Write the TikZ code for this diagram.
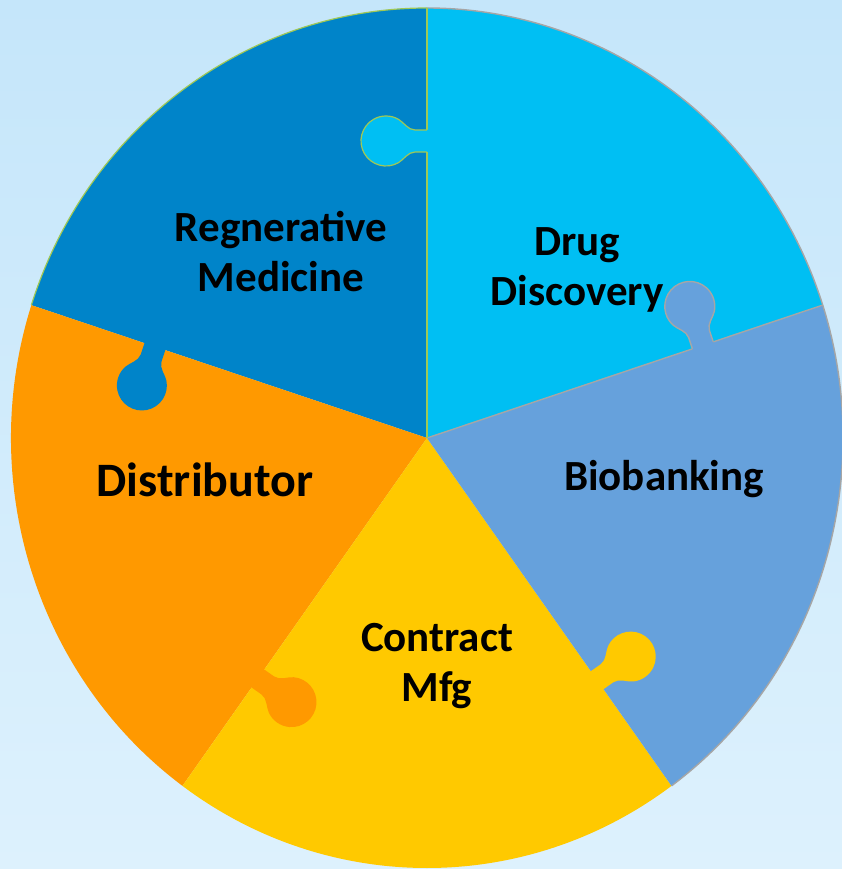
\documentclass[tikz,border=0pt]{standalone}
\usepackage{fontspec}
\setmainfont{Carlito}
\definecolor{bgtop}{RGB}{197,230,250}
\definecolor{bgbot}{RGB}{221,241,253}
\definecolor{ddc}{RGB}{0,191,243}
\definecolor{bbc}{RGB}{102,161,220}
\definecolor{cmc}{RGB}{255,201,0}
\definecolor{dic}{RGB}{255,153,0}
\definecolor{rmc}{RGB}{0,132,201}
\definecolor{edgegreen}{RGB}{160,200,85}
\definecolor{edgegrey}{RGB}{166,166,166}
\newcommand\KnobFill{(-11,-3) -- (-11,12) .. controls (-11,19) and (-18.65,23.3) .. (-21.65,28.5) arc[start angle=210,end angle=-30,radius=25] .. controls (18.65,23.3) and (11,19) .. (11,12) -- (11,-3) -- cycle}
\newcommand\KnobEdge{(-11,0) -- (-11,12) .. controls (-11,19) and (-18.65,23.3) .. (-21.65,28.5) arc[start angle=210,end angle=-30,radius=25] .. controls (18.65,23.3) and (11,19) .. (11,12) -- (11,0)}
\begin{document}
\begin{tikzpicture}[x=1pt,y=1pt,
  lbl/.style={font=\bfseries\fontsize{43}{50}\selectfont, align=center, text=black, inner sep=0pt},
  greenline/.style={draw=edgegreen, line width=1.2pt},
  greyline/.style={draw=edgegrey, line width=1.4pt}]
\useasboundingbox (-427,-431) rectangle (415,438);
\shade[top color=bgtop,bottom color=bgbot] (-427,-431) rectangle (415,438);
% sectors
\fill[ddc] (0,0) -- (18:416 and 430) arc[start angle=18,end angle=90,x radius=416,y radius=430] -- cycle;
\fill[rmc] (0,0) -- (90:416 and 430) arc[start angle=90,end angle=162,x radius=416,y radius=430] -- cycle;
\fill[dic] (0,0) -- (162:416 and 430) arc[start angle=162,end angle=234,x radius=416,y radius=430] -- cycle;
\fill[cmc] (0,0) -- (234:416 and 430) arc[start angle=234,end angle=306,x radius=416,y radius=430] -- cycle;
\fill[bbc] (0,0) -- (-54:416 and 430) arc[start angle=-54,end angle=18,x radius=416,y radius=430] -- cycle;
% outlines
\draw[greyline] (-54:416 and 430) arc[start angle=-54,end angle=90,x radius=416,y radius=430];
\draw[greyline] (0,0) -- (18:416 and 430);
\draw[greenline] (90:416 and 430) arc[start angle=90,end angle=162,x radius=416,y radius=430];
\draw[greenline] (0,0) -- (90:416 and 430);
% knobs
\begin{scope}[shift={(90:297)},rotate=90]
  \fill[ddc] \KnobFill;
  \draw[greenline] \KnobEdge;
\end{scope}
\begin{scope}[shift={(18.57:291)},rotate=18.57]
  \fill[bbc] \KnobFill;
  \draw[greyline] \KnobEdge;
\end{scope}
\begin{scope}[shift={(-54.9:296)},rotate=-54.9]
  \fill[cmc] \KnobFill;
\end{scope}
\begin{scope}[shift={(-125.1:294)},rotate=-125.1]
  \fill[dic] \KnobFill;
\end{scope}
\begin{scope}[shift={(161.43:287)},rotate=161.43]
  \fill[rmc] \KnobFill;
\end{scope}
% labels
\node[lbl] (rm) at (-146,186) {Regnerative\\Medicine};
\node[lbl] (dd) at (150,168) {Drug\\Discovery};
\node[lbl] (bb) at (237,-41) {Biobanking};
\node[lbl] (cm) at (10,-228) {Contract\\Mfg};
\node[lbl, font=\bfseries\fontsize{48}{58}\selectfont] (di) at (-222,-42) {Distributor};
\end{tikzpicture}
\end{document}
